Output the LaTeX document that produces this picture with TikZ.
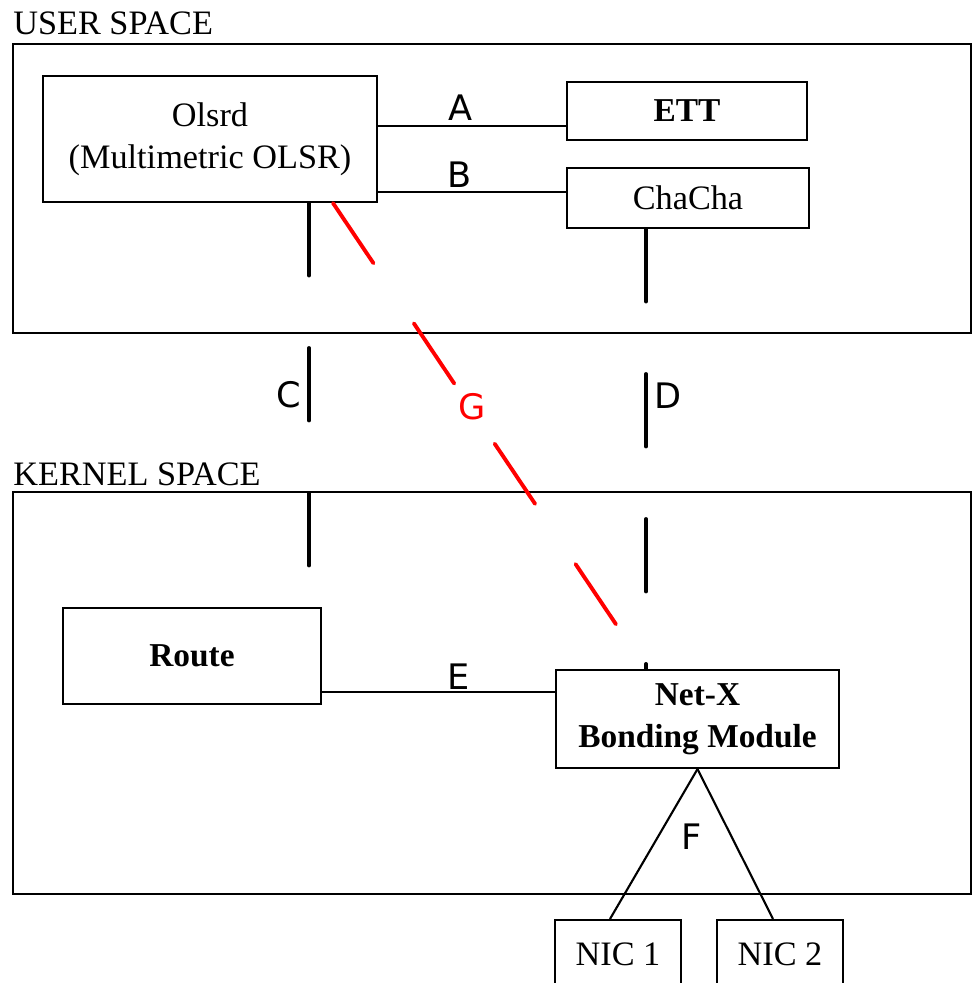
\documentclass[tikz,border=0pt]{standalone}
\usepackage{fontspec}
\setmainfont{Liberation Serif}
\newfontfamily\lblfont{DejaVu Sans}

\begin{document}
\begin{tikzpicture}[x=0.02cm, y=-0.02cm,
		space/.style={draw, line width=1.2pt, inner sep=0pt},
		box/.style={draw, line width=1.2pt, inner sep=0pt, align=center, font=\fontsize{19.5}{24}\selectfont},
		boldbox/.style={box, font=\fontsize{19}{24}\selectfont\bfseries},
		title/.style={anchor=base west, inner sep=0pt, font=\fontsize{19.5}{24}\selectfont},
		wire/.style={line width=1.2pt},
		link/.style={line width=2.2pt, line cap=round, dash pattern=on 1.45cm off 1.45cm},
		lbl/.style={inner sep=0pt, font=\lblfont\fontsize{20}{24}\selectfont}]
			\useasboundingbox (0,0) rectangle (972,983);

			\node[title] (ustitle) at (13,35) {USER SPACE};
			\node[title] (kstitle) at (13,485) {KERNEL SPACE};

			\node[space, minimum width=19.16cm, minimum height=5.78cm] (user) at (492,188.5) {};
			\node[space, minimum width=19.16cm, minimum height=8.04cm] (kernel) at (492,693) {};

			\node[box, minimum width=6.68cm, minimum height=2.52cm] (olsrd) at (210,139) {Olsrd\\(Multimetric OLSR)};
			\node[boldbox, minimum width=4.8cm, minimum height=1.16cm] (ett) at (687,111) {ETT};
			\node[box, minimum width=4.84cm, minimum height=1.2cm] (chacha) at (688,198) {ChaCha};

			\node[boldbox, minimum width=5.16cm, minimum height=1.92cm] (route) at (192,656) {Route};
			\node[boldbox, minimum width=5.66cm, minimum height=1.96cm] (netx) at (697.5,719) {Net-X\\Bonding Module};

			\node[box, minimum width=2.52cm, minimum height=1.36cm] (nic1) at (618,954) {NIC 1};
			\node[box, minimum width=2.52cm, minimum height=1.36cm] (nic2) at (780,954) {NIC 2};

			\draw[wire] (olsrd.east |- 0,126) -- (ett.west |- 0,126);
			\draw[wire] (olsrd.east |- 0,192) -- (chacha.west |- 0,192);
			\draw[wire] (route.east |- 0,692) -- (netx.west |- 0,692);
			\draw[wire] (netx.south) -- (nic1.north -| 610,0);
			\draw[wire] (netx.south) -- (nic2.north -| 773,0);

			\draw[link] (olsrd.south -| 309,0) -- (route.north -| 309,0);
			\draw[link] (chacha.south -| 646,0) -- (netx.north -| 646,0);
			\draw[link, red] (olsrd.south -| 333,0) -- (netx.north -| 646,0);

			\node[lbl] (la) at (461,108) {A};
			\node[lbl] (lb) at (460,175) {B};
			\node[lbl] (lc) at (289,395) {C};
			\node[lbl] (ld) at (668,396) {D};
			\node[lbl] (le) at (459,677) {E};
			\node[lbl] (lf) at (692,837) {F};
			\node[lbl, red] (lg) at (472,407) {G};
		\end{tikzpicture}
\end{document}
